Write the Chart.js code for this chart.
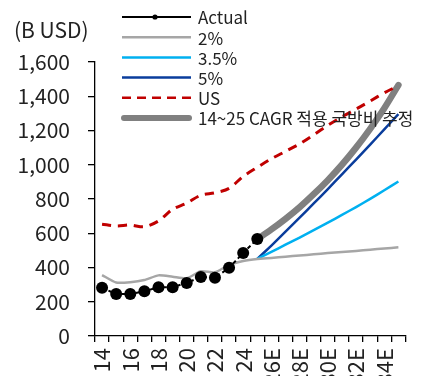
<!DOCTYPE html>
<html>
<head>
<meta charset="utf-8">
<script src="https://cdn.jsdelivr.net/npm/chart.js@4.4.1/dist/chart.umd.min.js"></script>
<style>
  html, body { margin: 0; padding: 0; background: #fff; overflow: hidden; }
  #wrap { width: 431px; height: 376px; position: relative; }
</style>
</head>
<body>
<div id="wrap"><canvas id="chart"></canvas></div>
<script>
const FONT = '"Noto Sans CJK KR", "Noto Sans", sans-serif';

const years = ['14','15','16','17','18','19','20','21','22','23','24','25E',
               '26E','27E','28E','29E','30E','31E','32E','33E','34E','35E'];

// actual defense spending (B USD)
const actual = [282, 245, 245, 261, 285, 285, 310, 345, 340, 398, 485, 566,
                null, null, null, null, null, null, null, null, null, null];
// 2% line (history + projection)
const rate2 = [356, 312, 314, 327, 354, 346, 337, 378, 372, 415, 438, 450,
               456, 463, 470, 477, 484, 490, 497, 504, 511, 518];
const rate35 = [null, null, null, null, null, null, null, null, null, null, null, 450,
                491, 533, 575, 618, 662, 707, 753, 801, 851, 902];
const rate5 = [null, null, null, null, null, null, null, null, null, null, null, 450,
               528, 609, 691, 774, 858, 944, 1030, 1118, 1206, 1296];
const us = [653, 643, 648, 638, 672, 740, 776, 822, 836, 862, 932, 985,
            1035, 1078, 1122, 1175, 1230, 1280, 1325, 1372, 1420, 1462];
const cagr = [null, null, null, null, null, null, null, null, null, null, null, 566,
              622, 684, 752, 828, 910, 1000, 1100, 1210, 1330, 1465];

const yTicks = [0, 200, 400, 600, 800, 1000, 1200, 1400, 1600];

const legendItems = [
  { text: 'Actual', color: '#000000', width: 2, dash: [], dot: true },
  { text: '2%', color: '#a6a6a6', width: 2.5, dash: [] },
  { text: '3.5%', color: '#00b0f0', width: 2.5, dash: [] },
  { text: '5%', color: '#0a3d9c', width: 2.5, dash: [] },
  { text: 'US', color: '#c00000', width: 2.5, dash: [9, 6] },
  { text: '14~25 CAGR 적용 국방비 추정', color: '#808080', width: 6, dash: [], round: true }
];

const overlay = {
  id: 'overlay',
  afterDraw(chart) {
    const ctx = chart.ctx;
    ctx.save();
    ctx.fillStyle = '#222';
    ctx.textBaseline = 'middle';
    ctx.font = '21px ' + FONT;
    ctx.fillText('(B USD)', 14, 30);

    ctx.font = '17px ' + FONT;
    legendItems.forEach((it, i) => {
      const y = 17 + i * 20.2;
      ctx.beginPath();
      ctx.strokeStyle = it.color;
      ctx.lineWidth = it.width;
      ctx.lineCap = it.round ? 'round' : 'butt';
      ctx.setLineDash(it.dash);
      ctx.moveTo(it.round ? 124 : 122, y);
      ctx.lineTo(it.round ? 189 : 191, y);
      ctx.stroke();
      ctx.setLineDash([]);
      if (it.dot) {
        ctx.beginPath();
        ctx.fillStyle = '#000';
        ctx.arc(155, y, 2.6, 0, Math.PI * 2);
        ctx.fill();
      }
      ctx.fillStyle = '#222';
      ctx.fillText(it.text, 198, y + 1);
    });
    ctx.restore();
  }
};

Chart.defaults.font.family = FONT;
Chart.defaults.color = '#222';

new Chart(document.getElementById('chart'), {
  type: 'line',
  data: {
    labels: years,
    datasets: [
      { label: 'Actual', data: actual, borderColor: '#000', backgroundColor: '#000',
        borderWidth: 2, borderDash: [4, 3], pointRadius: 6, pointBorderWidth: 0, tension: 0 },
      { label: 'US', data: us, borderColor: '#c00000', borderWidth: 3, borderDash: [9, 7],
        pointRadius: 0, tension: 0.3 },
      { label: '2%', data: rate2, borderColor: '#a6a6a6', borderWidth: 2.5, pointRadius: 0, tension: 0.2 },
      { label: '3.5%', data: rate35, borderColor: '#00b0f0', borderWidth: 2.5, pointRadius: 0, tension: 0.2 },
      { label: '5%', data: rate5, borderColor: '#0a3d9c', borderWidth: 2.5, pointRadius: 0, tension: 0.2 },
      { label: '14~25 CAGR 적용 국방비 추정', data: cagr, borderColor: '#808080', borderWidth: 6.5,
        borderCapStyle: 'round', pointRadius: 0, tension: 0.3 }
    ]
  },
  options: {
    responsive: true,
    maintainAspectRatio: false,
    animation: false,
    layout: { padding: { top: 62, right: 9, left: 0, bottom: 0 } },
    plugins: { legend: { display: false }, tooltip: { enabled: false } },
    scales: {
      x: {
        offset: true,
        grid: { offset: true, drawOnChartArea: false, tickLength: 6, color: '#000', lineWidth: 1.3 },
        border: { color: '#000', width: 1.3 },
        ticks: {
          autoSkip: false, minRotation: 90, maxRotation: 90, padding: 6,
          font: { size: 22 },
          callback: function (v, i) { return i % 2 === 0 ? this.getLabelForValue(v) : ''; }
        },
        afterFit: (s) => { s.height = 40; }
      },
      y: {
        min: 0, max: 1600,
        afterBuildTicks: (s) => { s.ticks = yTicks.map(v => ({ value: v })); },
        grid: { drawOnChartArea: false, tickLength: 7, color: '#000', lineWidth: 1.3 },
        border: { color: '#000', width: 1.3 },
        ticks: {
          padding: 18, font: { size: 21 },
          callback: (v) => v.toLocaleString('en-US')
        },
        afterFit: (s) => { s.width = 95; }
      }
    }
  },
  plugins: [overlay]
});
</script>
</body>
</html>
